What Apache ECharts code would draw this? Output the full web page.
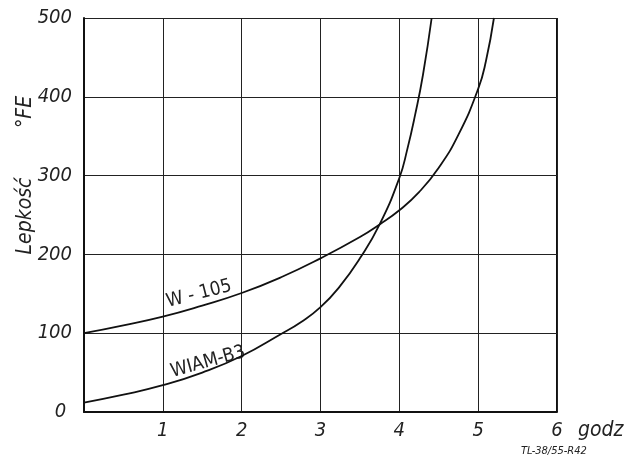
<!DOCTYPE html>
<html><head><meta charset="utf-8">
<script src="https://cdn.jsdelivr.net/npm/echarts@6/dist/echarts.min.js"></script>
<style>html,body{margin:0;padding:0;background:#fff}#c{width:633px;height:465px}</style>
</head><body><div id="c"></div>
<script>
const xTicks = [0, 1, 2, 3, 4, 5, 6];
const yTicks = [0, 100, 200, 300, 400, 500];
const w105X = [0, 0.5, 1, 1.5, 2, 2.5, 3, 3.5, 3.75, 4, 4.25, 4.5, 4.75, 5, 5.1, 5.2];
const w105Y = [100, 110, 121, 135, 151, 171, 195, 222, 238, 256, 279, 310, 352, 410, 446, 500];
const wiamX = [0, 0.5, 1, 1.5, 2, 2.5, 2.75, 3, 3.25, 3.5, 3.75, 4, 4.1, 4.2, 4.3, 4.41];
const wiamY = [12, 22, 34, 50, 71, 99, 114, 133, 160, 195, 238, 297, 333, 377, 428, 500];
const seriesNames = ['W - 105', 'WIAM-B3'];

const FONT = '"DejaVu Sans Condensed", "DejaVu Sans", sans-serif';
const chart = echarts.init(document.getElementById('c'), null, {renderer: 'canvas'});
const pair = (xs, ys) => xs.map((x, i) => [x, ys[i]]);
chart.setOption({
  animation: false,
  backgroundColor: '#fff',
  grid: {left: 84, right: 76, top: 18, bottom: 53, show: false},
  xAxis: {
    type: 'value', min: 0, max: 6, interval: 1,
    axisLine: {show: true, onZero: false, lineStyle: {color: '#111', width: 2}},
    axisTick: {show: false},
    splitLine: {show: true, lineStyle: {color: '#222', width: 1}},
    axisLabel: {
      color: '#222', fontSize: 20, fontStyle: 'italic', fontFamily: FONT, margin: 9,
      formatter: v => (v === 0 ? '' : String(v))
    }
  },
  yAxis: {
    type: 'value', min: 0, max: 500, interval: 100,
    axisLine: {show: true, onZero: false, lineStyle: {color: '#111', width: 2}},
    axisTick: {show: false},
    splitLine: {show: true, lineStyle: {color: '#222', width: 1}},
    axisLabel: {color: '#222', fontSize: 20, fontStyle: 'italic', fontFamily: FONT, margin: 12,
      formatter: v => (v === 0 ? '0 ' : String(v))}
  },
  graphic: [
    {type: 'line', shape: {x1: 557, y1: 18, x2: 557, y2: 412}, style: {stroke: '#111', lineWidth: 2}},
    {type: 'text', x: 578, y: 420, style: {text: 'godz', fontSize: 21, fontStyle: 'italic', fontFamily: FONT, fill: '#222'}},
    {type: 'text', x: 521, y: 446, style: {text: 'TL-38/55-R42', fontSize: 11, fontStyle: 'italic', fontFamily: FONT, fill: '#222'}},
    {type: 'text', x: 26, y: 216, rotation: Math.PI / 2, style: {text: 'Lepkość', fontSize: 21, fontStyle: 'italic', fontFamily: FONT, fill: '#222', align: 'center', verticalAlign: 'middle'}},
    {type: 'text', x: 26, y: 112, rotation: Math.PI / 2, style: {text: '°FE', fontSize: 21, fontStyle: 'italic', fontFamily: FONT, fill: '#222', align: 'center', verticalAlign: 'middle'}},
    {type: 'text', x: 199, y: 294, rotation: 0.25, style: {text: seriesNames[0], fontSize: 19, fontFamily: FONT, fill: '#222', align: 'center', verticalAlign: 'middle'}},
    {type: 'text', x: 208, y: 362, rotation: 0.27, style: {text: seriesNames[1], fontSize: 19, fontFamily: FONT, fill: '#222', align: 'center', verticalAlign: 'middle'}}
  ],
  series: [
    {name: seriesNames[0], type: 'line', data: pair(w105X, w105Y), smooth: 0.5, showSymbol: false, lineStyle: {color: '#111', width: 1.8}},
    {name: seriesNames[1], type: 'line', data: pair(wiamX, wiamY), smooth: 0.5, showSymbol: false, lineStyle: {color: '#111', width: 1.8}}
  ]
});
</script></body></html>
